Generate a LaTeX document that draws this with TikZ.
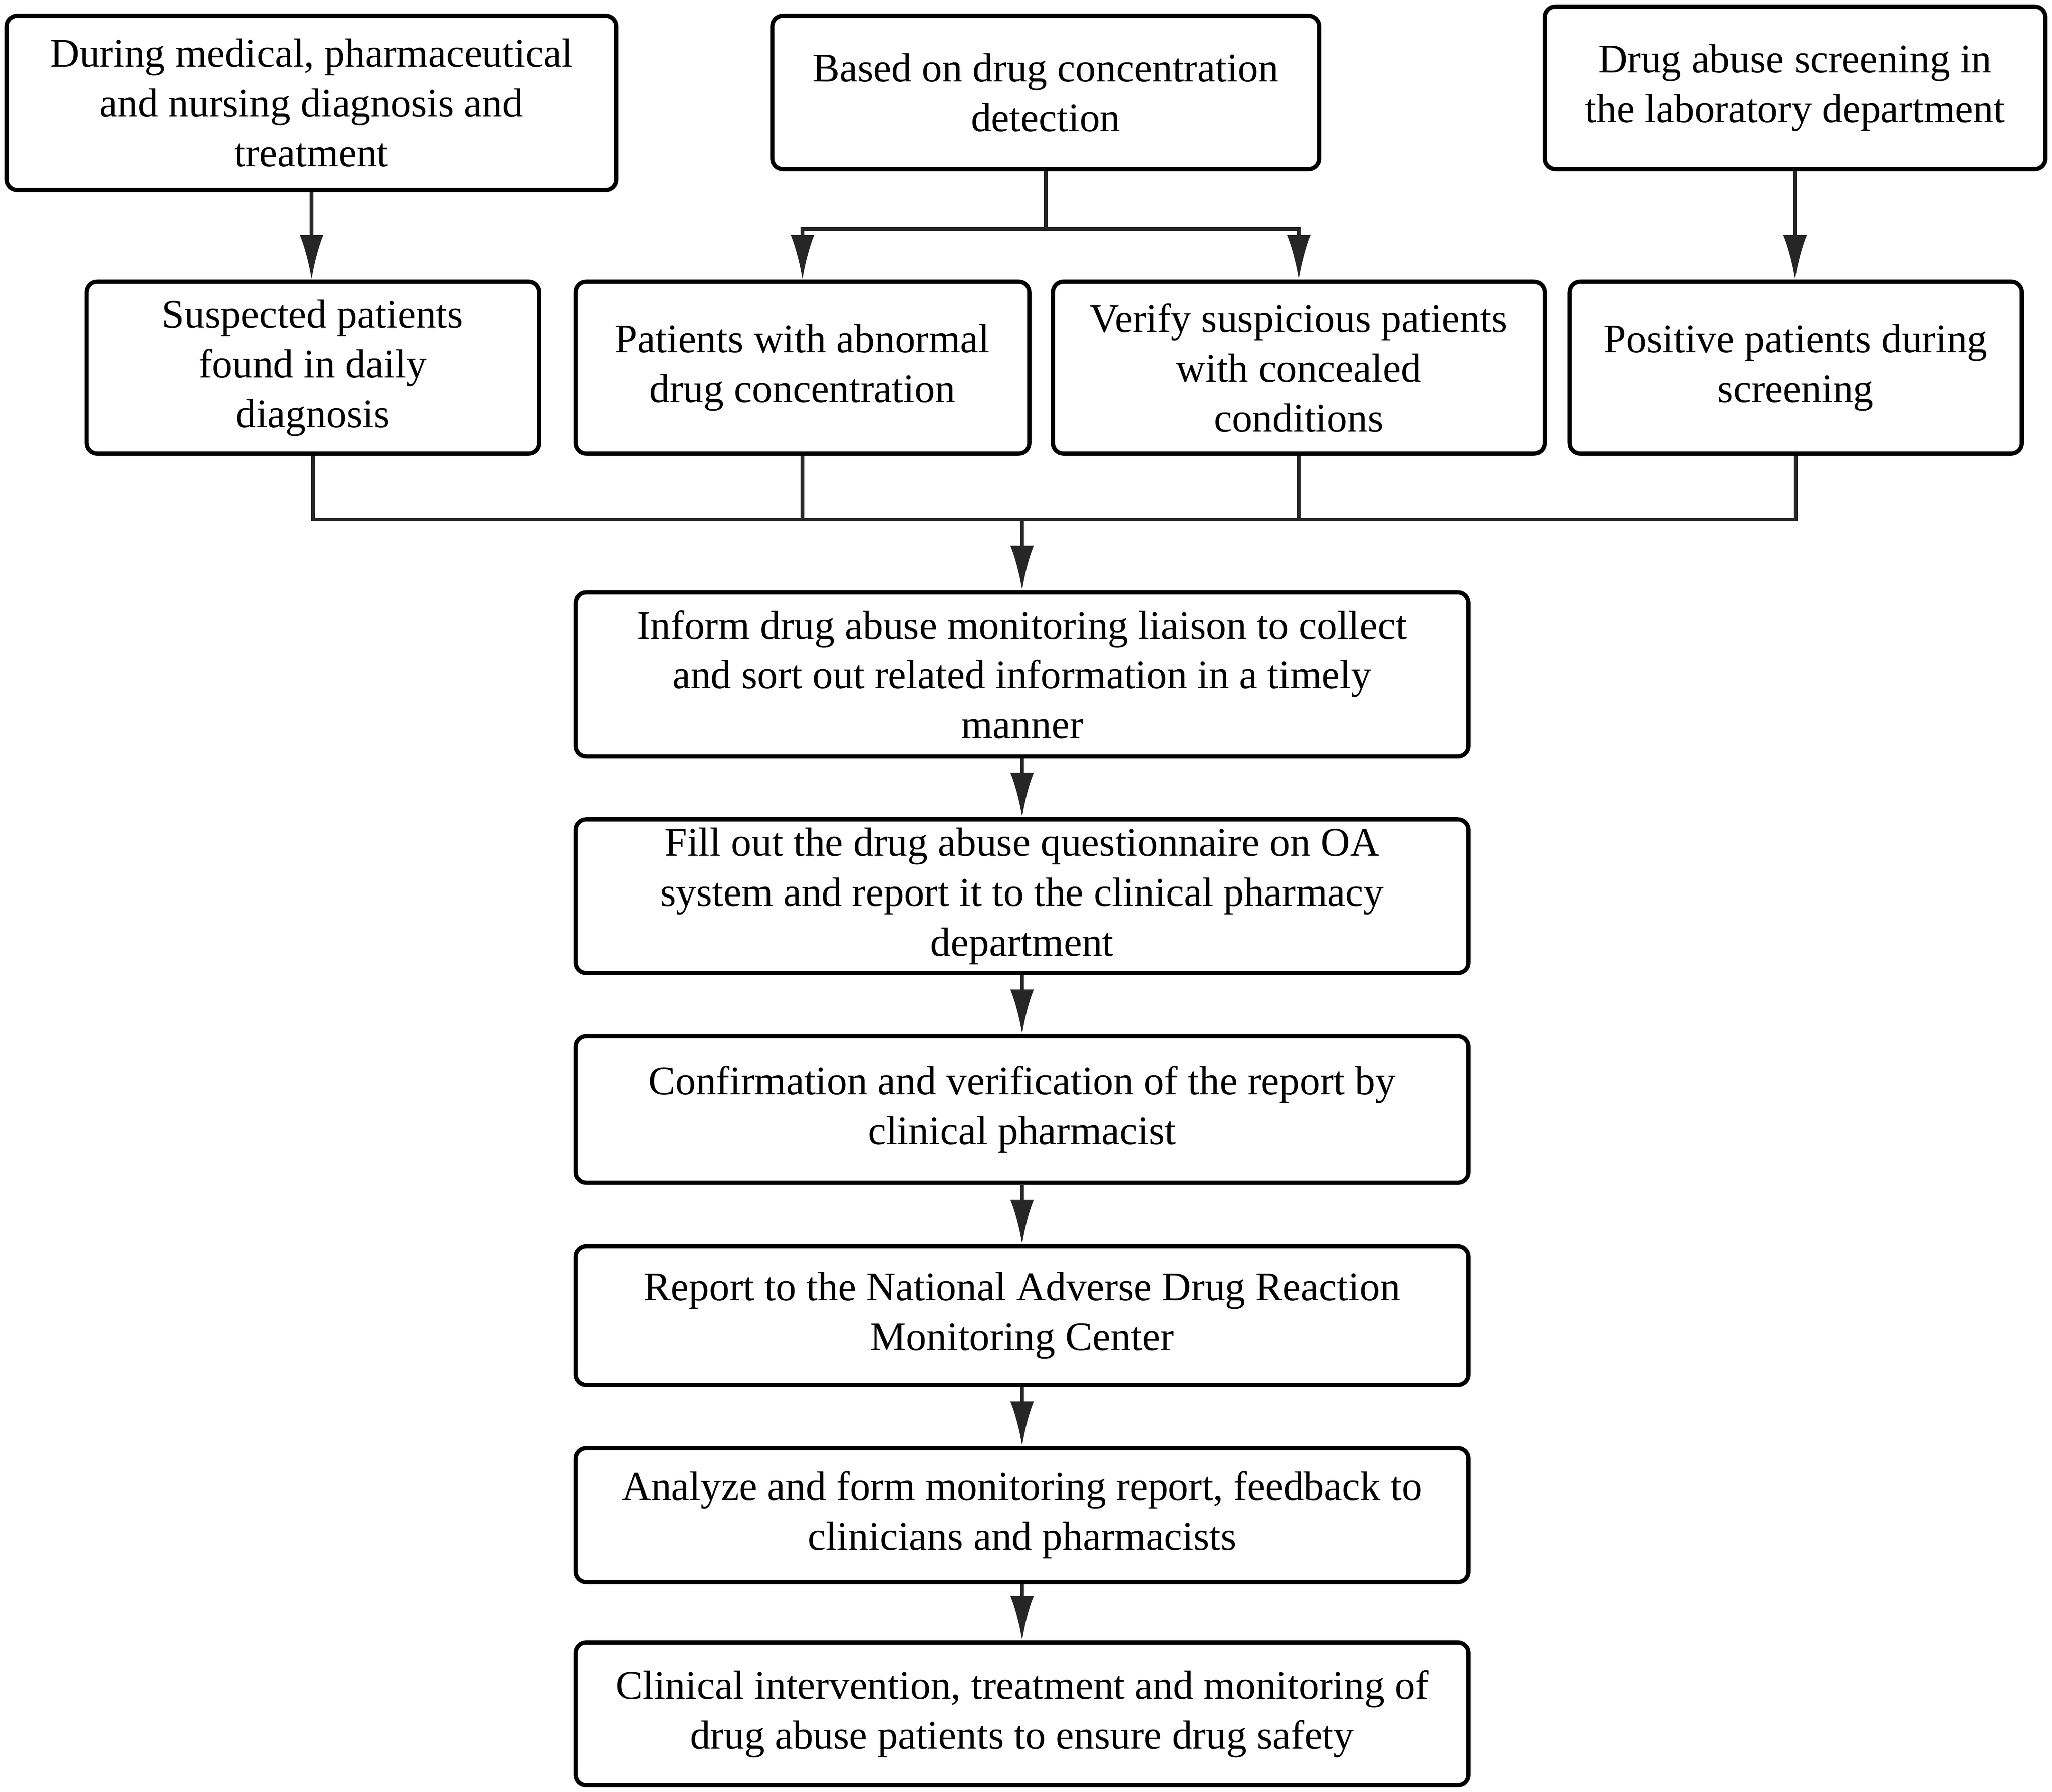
\documentclass[tikz,border=0pt]{standalone}
\usepackage{fontspec}
\setmainfont{Liberation Serif}
\usetikzlibrary{positioning,arrows.meta}

\begin{document}
\begin{tikzpicture}[>={Latex[length=17pt,width=9pt]}, x=0.5pt, y=-0.5pt]

    %
    % Styles for boxes and flow edges
    %
    \tikzstyle{stepText} = [align=center, font={\fontsize{15.5}{19}\selectfont}, text=black]
    \tikzstyle{bbox} = [draw, rectangle, rounded corners=4pt, line width=1.6pt, inner sep=2pt]
    \tikzstyle{stage} = [bbox, stepText]
    \tikzstyle{rowTwo} = [stage, minimum height=65.5pt]
    \tikzstyle{column} = [stage, minimum width=340.5pt]
    \tikzstyle{flowLine} = [black!85, line width=1.4pt]
    \tikzstyle{flow} = [flowLine, ->]

    \useasboundingbox (0,0) rectangle (1565,1367);

    %
    % Sources of suspected cases
    %
    \node[stage, name=clinic, minimum width=232.5pt, minimum height=66.5pt] at (237.5,78.5)
      {During medical, pharmaceutical\\and nursing diagnosis and\\treatment};
    \node[stage, name=detect, minimum width=208.5pt, minimum height=58.5pt] at (797.5,70.5)
      {Based on drug concentration\\detection};
    \node[stage, name=lab, minimum width=191pt, minimum height=62pt] at (1369,67)
      {Drug abuse screening in\\the laboratory department};

    \node[rowTwo, name=suspect, minimum width=172.5pt] at (238.5,280.5)
      {Suspected patients\\found in daily\\diagnosis};
    \node[rowTwo, name=abnormal, minimum width=173pt] at (612,280.5)
      {Patients with abnormal\\drug concentration};
    \node[rowTwo, name=conceal, minimum width=187.5pt] at (990.5,280.5)
      {Verify suspicious patients\\with concealed\\conditions};
    \node[rowTwo, name=positive, minimum width=172.5pt] at (1369.5,280.5)
      {Positive patients during\\screening};

    %
    % Reporting chain
    %
    \node[column, name=inform, minimum height=62.5pt] at (779.5,514.5)
      {Inform drug abuse monitoring liaison to collect\\and sort out related information in a timely\\manner};
    \node[column, name=fillout, minimum height=58.5pt, below=22.5pt of inform]
      {Fill out the drug abuse questionnaire on OA\\system and report it to the clinical pharmacy\\department};
    \node[column, name=confirm, minimum height=56pt, below=22.5pt of fillout]
      {Confirmation and verification of the report by\\clinical pharmacist};
    \node[column, name=national, minimum height=53pt, below=22.5pt of confirm]
      {Report to the National Adverse Drug Reaction\\Monitoring Center};
    \node[column, name=analyze, minimum height=51pt, below=22.5pt of national]
      {Analyze and form monitoring report, feedback to\\clinicians and pharmacists};
    \node[column, name=intervene, minimum height=54.5pt, below=21.5pt of analyze]
      {Clinical intervention, treatment and monitoring of\\drug abuse patients to ensure drug safety};

    %
    % Connect boxes via edges
    %
    \coordinate[below=22pt of detect.south] (split);
    \coordinate[above=27pt of inform.north] (merge);

    \draw[flow] (clinic.south) -- (clinic.south |- suspect.north);
    \draw[flow] (lab.south) -- (lab.south |- positive.north);
    \draw[flowLine] (detect.south) -- (split);
    \draw[flow] (split) -| (abnormal.north);
    \draw[flow] (split) -| (conceal.north);

    \draw[flowLine] (suspect.south) |- (positive.south |- merge) -- (positive.south);
    \draw[flowLine] (abnormal.south) -- (abnormal.south |- merge);
    \draw[flowLine] (conceal.south) -- (conceal.south |- merge);
    \draw[flow] (merge) -- (inform);

    \foreach \from/\to in {inform/fillout, fillout/confirm, confirm/national,
                           national/analyze, analyze/intervene}
      \draw[flow] (\from) -- (\to);
\end{tikzpicture}
\end{document}
